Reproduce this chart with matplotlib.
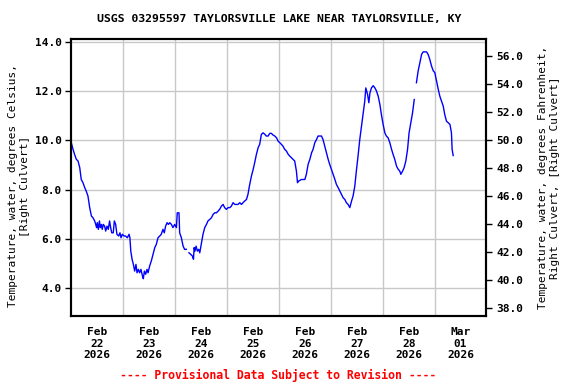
import numpy as np
import matplotlib
matplotlib.use("Agg")
import matplotlib.pyplot as plt

# hours since Feb 22 00:00, water temperature in deg C
hours = [
    0.0, 0.8, 1.5, 2.3, 3.1, 3.9, 4.6, 5.4, 6.2, 6.9, 7.7, 8.5, 9.3, 10.0, 10.8,
    11.3, 11.7, 12.0, 12.5, 13.0, 13.4, 13.9, 14.3, 14.8, 15.4, 15.9, 16.5, 17.1,
    17.7, 18.2, 18.7, 19.4, 19.9, 20.5, 21.1, 21.9, 22.5, 23.0, 23.6, 24.4, 25.1,
    25.9, 26.7, 27.1, 27.5, 28.1, 28.7, 29.3, 29.9, 30.4, 31.0, 31.6, 32.2, 32.9,
    33.3, 33.8, 34.4, 35.0, 35.5, 36.2, 37.0, 37.8, 38.6, 39.3, 40.1, 40.9, 41.6,
    42.4, 43.0, 43.6, 44.3, 44.9, 45.5, 46.3, 47.0, 47.8, 48.6, 49.0, 49.8, 50.1,
    50.9, 51.7, 52.4, 53.2, 53.8, 54.4, 55.2, 56.0, 56.5, 56.8, 57.2, 57.7, 58.3,
    58.9, 59.4, 60.2, 60.9, 61.7, 62.5, 63.2, 64.0, 64.8, 65.6, 66.3, 67.1, 67.9,
    68.6, 69.4, 70.2, 70.9, 71.7, 72.5, 73.3, 74.0, 74.8, 75.6, 76.4, 77.1, 77.9,
    78.7, 79.4, 80.2, 81.0, 81.7, 82.5, 83.3, 84.1, 84.8, 85.6, 86.4, 87.1, 87.9,
    88.7, 89.5, 90.2, 91.0, 91.8, 92.5, 93.3, 94.1, 94.9, 95.6, 96.4, 97.2, 97.9,
    98.7, 99.5, 100.3, 101.0, 101.8, 102.6, 103.3, 104.1, 104.6, 105.2, 106.4,
    107.2, 108.0, 108.7, 109.5, 110.3, 111.1, 111.8, 112.6, 113.4, 114.1, 114.9,
    115.7, 116.4, 117.2, 118.0, 118.8, 119.5, 120.3, 121.1, 121.9, 122.6, 123.4,
    124.2, 124.9, 125.7, 126.5, 127.2, 128.0, 128.8, 129.6, 130.3, 131.1, 131.9,
    132.6, 133.4, 134.2, 135.0, 135.7, 136.2, 137.0, 137.6, 138.1, 138.8, 139.6,
    140.4, 141.1, 141.9, 142.7, 143.4, 144.2, 145.0, 145.7, 146.5, 147.3, 148.1,
    148.8, 149.6, 150.4, 151.2, 151.9, 152.4, 153.2, 153.9, 154.7, 155.5, 156.2,
    157.0, 157.8, 158.6, 159.1, 159.6, 160.4, 161.2, 162.0, 162.7, 163.5, 164.3,
    165.0, 165.8, 166.6, 167.4, 168.1, 168.9, 169.7, 170.4, 171.2, 172.0, 172.7,
    173.5, 174.3, 175.1, 175.8, 176.1, 176.6,
]
temp_c = [
    9.90, 9.63, 9.43, 9.23, 9.16, 8.89, 8.41, 8.28, 8.08, 7.94, 7.74, 7.27, 6.93,
    6.86, 6.73, 6.59, 6.46, 6.66, 6.39, 6.73, 6.46, 6.59, 6.39, 6.59, 6.52, 6.32,
    6.52, 6.39, 6.73, 6.46, 6.25, 6.25, 6.73, 6.59, 6.19, 6.12, 6.25, 6.05, 6.19,
    6.12, 6.12, 6.05, 6.19, 6.05, 5.51, 5.18, 4.97, 4.70, 4.97, 4.63, 4.77, 4.63,
    4.77, 4.50, 4.39, 4.70, 4.57, 4.77, 4.63, 4.90, 5.11, 5.38, 5.65, 5.78, 6.05,
    6.12, 6.19, 6.39, 6.25, 6.52, 6.66, 6.59, 6.66, 6.59, 6.46, 6.59, 6.46, 7.06,
    7.06, 6.25, 6.05, 5.71, 5.58, 5.58, np.nan, 5.44, 5.38, 5.31, 5.18, 5.65, 5.51,
    5.71, 5.51, 5.58, 5.44, 5.85, 6.19, 6.46, 6.59, 6.73, 6.79, 6.86, 7.00, 7.06,
    7.06, 7.13, 7.20, 7.33, 7.40, 7.27, 7.20, 7.27, 7.27, 7.33, 7.47, 7.40, 7.40,
    7.40, 7.47, 7.40, 7.47, 7.54, 7.60, 7.81, 8.21, 8.55, 8.82, 9.09, 9.43, 9.70,
    9.83, 10.24, 10.30, 10.24, 10.17, 10.17, 10.28, 10.28, 10.21, 10.17, 10.10,
    9.97, 9.90, 9.83, 9.76, 9.63, 9.56, 9.43, 9.36, 9.29, 9.22, 9.16, 8.75, 8.28,
    8.35, 8.41, 8.41, 8.41, 8.62, 9.02, 9.22, 9.49, 9.63, 9.90, 10.03, 10.17,
    10.17, 10.17, 10.03, 9.76, 9.49, 9.22, 9.02, 8.82, 8.62, 8.41, 8.21, 8.08,
    7.94, 7.81, 7.67, 7.60, 7.47, 7.40, 7.27, 7.54, 7.74, 8.14, 8.82, 9.36, 10.03,
    10.57, 11.11, 11.58, 12.12, 11.86, 11.52, 11.92, 12.12, 12.21, 12.12, 12.00,
    11.79, 11.45, 11.04, 10.64, 10.30, 10.17, 10.10, 9.90, 9.63, 9.43, 9.22, 8.95,
    8.82, 8.75, 8.62, 8.75, 8.89, 9.16, 9.63, 10.30, 10.71, 11.11, 11.65, np.nan,
    12.33, 12.81, 13.14, 13.48, 13.58, 13.58, 13.58, 13.48, 13.27, 13.00, 12.81,
    12.74, 12.40, 12.06, 11.79, 11.58, 11.38, 11.04, 10.77, 10.71, 10.64, 10.30,
    9.63, 9.38,
]

day_labels = ["Feb\n22\n2026", "Feb\n23\n2026", "Feb\n24\n2026", "Feb\n25\n2026",
              "Feb\n26\n2026", "Feb\n27\n2026", "Feb\n28\n2026", "Mar\n01\n2026"]
c_ticks = [4.0, 6.0, 8.0, 10.0, 12.0, 14.0]
f_ticks = [38.0, 40.0, 42.0, 44.0, 46.0, 48.0, 50.0, 52.0, 54.0, 56.0]

plt.rcParams["font.family"] = "DejaVu Sans Mono"
plt.rcParams["font.weight"] = "bold"
plt.rcParams["font.size"] = 8

fig = plt.figure(figsize=(5.76, 3.84), dpi=100)
ax = fig.add_axes((0.1238, 0.1771, 0.7208, 0.7206))

ax.plot(hours, temp_c, color="#0000FF", lw=1.0, zorder=3)

ax.set_xlim(0, 192)
ax.set_ylim(2.88, 14.09)
ax.set_xticks(np.arange(24, 192, 24), minor=False)
ax.set_xticklabels([])
ax.set_xticks(np.arange(12, 192, 24), minor=True)
ax.set_xticklabels(day_labels, minor=True)
ax.tick_params(axis="x", which="both", length=0, pad=8)
ax.grid(True, axis="x", which="major", color="#C8C8C8", lw=1.0)

ax.set_yticks(c_ticks)
ax.set_yticklabels([f"{v:.1f}" for v in c_ticks])
ax.grid(True, axis="y", color="#C8C8C8", lw=1.0)
ax.tick_params(axis="y", length=4, width=1, direction="out", pad=3)
ax.set_ylabel("Temperature, water, degrees Celsius,\n[Right Culvert]",
              ha="center", labelpad=3, linespacing=1.25)
ax.yaxis.label.set_y(0.47)
ax.set_axisbelow(True)

for s in ax.spines.values():
    s.set_linewidth(1.5)

ax2 = ax.twinx()
ax2.set_ylim(37.45, 57.19)
ax2.set_yticks(f_ticks)
ax2.set_yticklabels([f"{v:.1f}" for v in f_ticks])
ax2.tick_params(axis="y", length=4, width=1, direction="out", pad=3)
ax2.set_ylabel("Temperature, water, degrees Fahrenheit,\nRight Culvert, [Right Culvert]",
               ha="center", labelpad=11, linespacing=1.25)
for s in ax2.spines.values():
    s.set_linewidth(1.5)

fig.text(0.484, 0.95, "USGS 03295597 TAYLORSVILLE LAKE NEAR TAYLORSVILLE, KY",
         ha="center", va="center", fontsize=8.25, fontweight="bold")
fig.text(0.482, 0.022, "---- Provisional Data Subject to Revision ----",
         ha="center", va="center", fontsize=8.3, fontweight="bold", color="#FF0000")

fig.savefig("out.png", dpi=100)
